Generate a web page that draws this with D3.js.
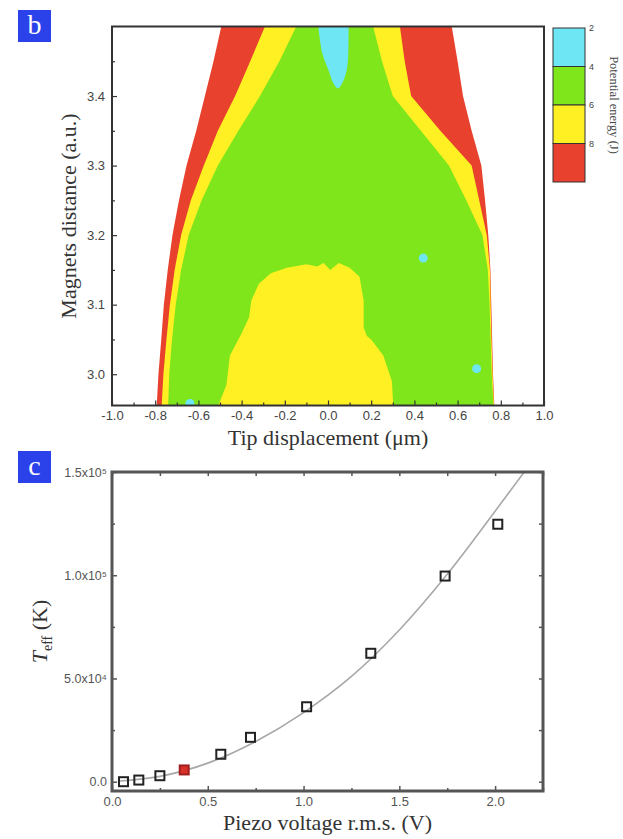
<!DOCTYPE html>
<html><head><meta charset="utf-8">
<script src="https://cdn.jsdelivr.net/npm/d3@7"></script>
<style>
html,body{margin:0;padding:0;background:#fff;}
svg{display:block;}
</style></head>
<body>
<script>
// ---------- Panel b data (contour map) ----------
const yLevels    = [3.50, 3.45, 3.40, 3.35, 3.30, 3.25, 3.20, 3.15, 3.10, 3.05, 3.00, 2.955];
const redLeft    = [-0.494,-0.53,-0.57,-0.61,-0.655,-0.69,-0.72,-0.742,-0.76,-0.772,-0.785,-0.793];
const yellowLeft = [-0.292,-0.36,-0.43,-0.51,-0.575,-0.635,-0.68,-0.71,-0.732,-0.748,-0.762,-0.77];
const greenLeft  = [-0.147,-0.225,-0.315,-0.415,-0.51,-0.585,-0.645,-0.68,-0.705,-0.722,-0.735,-0.74];
const greenRight = [0.209,0.25,0.30,0.43,0.56,0.64,0.715,0.74,0.748,0.753,0.758,0.766];
const yellowRight= [0.333,0.355,0.385,0.52,0.665,0.70,0.735,0.75,0.753,0.757,0.762,0.768];
const redRight   = [0.573,0.60,0.625,0.665,0.71,0.727,0.742,0.752,0.756,0.76,0.764,0.77];

const blobX = [-0.508,-0.47,-0.454,-0.40,-0.365,-0.355,-0.32,-0.265,-0.19,-0.10,-0.05,-0.02,0.01,0.05,0.10,0.146,0.165,0.165,0.18,0.20,0.256,0.296,0.302];
const blobY = [2.955,2.985,3.027,3.059,3.082,3.106,3.13,3.145,3.153,3.158,3.155,3.16,3.15,3.16,3.153,3.14,3.106,3.067,3.055,3.05,3.027,2.99,2.955];

const cyanTopX = [-0.045,-0.025,0.005,0.025,0.046,0.065,0.085,0.094,0.095];
const cyanTopY = [3.50,3.46,3.435,3.418,3.411,3.418,3.435,3.46,3.50];

const dotX = [0.441, 0.688, -0.639];
const dotY = [3.167, 3.008, 2.958];

const xTicksB = [-1.0,-0.8,-0.6,-0.4,-0.2,0.0,0.2,0.4,0.6,0.8,1.0];
const yTicksB = [3.0,3.1,3.2,3.3,3.4];

const legendColors = ["#6ee6f4","#7ee61a","#fff023","#e8412e"];
const legendLabels = ["2","4","6","8"];

// ---------- Panel c data ----------
const voltage = [0.06,0.14,0.25,0.377,0.568,0.723,1.016,1.351,1.739,2.014];
const teff    = [0,800,2900,5700,13300,21500,36300,62200,99600,124700];
const highlighted = [false,false,false,true,false,false,false,false,false,false];
const fitV = [0.03,0.25,0.5,0.75,1.0,1.25,1.5,1.75,2.0,2.2];
const fitT = [200,2600,9000,19500,33500,51000,73500,100500,131000,156000];
const xTicksC = [0.0,0.5,1.0,1.5,2.0];
const yTicksC = [0,50000,100000,150000];
const yTickLabelsC = ["0.0","5.0x10⁴","1.0x10⁵","1.5x10⁵"];

// ---------- Drawing ----------
const W = 623, H = 839;
const svg = d3.select("body").append("svg").attr("width", W).attr("height", H);

const serif = "'Liberation Serif','Times New Roman',serif";
const sans = "'Liberation Sans',Arial,sans-serif";
const fmt1 = d => d.toFixed(1);

// Panel b scales
const bL = 112, bR = 544, bT = 26.5, bB = 405.5;
const xB = d3.scaleLinear().domain([-1, 1]).range([bL, bR]);
const yB = d3.scaleLinear().domain([2.955, 3.5]).range([bB, bT]);

svg.append("clipPath").attr("id","clipB").append("rect")
  .attr("x", bL).attr("y", bT).attr("width", bR-bL).attr("height", bB-bT);

const gB = svg.append("g").attr("clip-path","url(#clipB)");
const line = d3.line().x(d => xB(d[0])).y(d => yB(d[1]));

function band(left, right) {
  const pts = [];
  yLevels.forEach((y,i) => pts.push([left[i], y]));
  for (let i = yLevels.length-1; i >= 0; i--) pts.push([right[i], yLevels[i]]);
  return pts;
}
gB.append("path").attr("d", line(band(redLeft, redRight)) + "Z").attr("fill", legendColors[3]);
gB.append("path").attr("d", line(band(yellowLeft, yellowRight)) + "Z").attr("fill", legendColors[2]);
gB.append("path").attr("d", line(band(greenLeft, greenRight)) + "Z").attr("fill", legendColors[1]);
gB.append("path").attr("d", line(blobX.map((x,i)=>[x, blobY[i]])) + "Z").attr("fill", legendColors[2]);
gB.append("path").attr("d", d3.line().x(d=>xB(d[0])).y(d=>yB(d[1])).curve(d3.curveCatmullRom)(cyanTopX.map((x,i)=>[x,cyanTopY[i]])) + "Z").attr("fill", legendColors[0]);
gB.selectAll("circle.dot").data(dotX.map((x,i)=>[x,dotY[i]])).join("circle")
  .attr("cx", d=>xB(d[0])).attr("cy", d=>yB(d[1])).attr("r", 4.5).attr("fill", legendColors[0]);

// axes b
function styleAxis(g, fs) {
  g.select(".domain").remove();
  g.selectAll("line").attr("stroke","#333").attr("stroke-width",1.2);
  g.selectAll("text").attr("font-family", sans).attr("font-size", fs).attr("fill","#444");
}
const xMinorB = [-0.9,-0.7,-0.5,-0.3,-0.1,0.1,0.3,0.5,0.7,0.9];
svg.append("g").attr("transform",`translate(0,${bB})`)
  .call(d3.axisBottom(xB).tickValues(xTicksB).tickSize(-5).tickPadding(5).tickFormat(fmt1))
  .call(g => styleAxis(g, 13));
svg.append("g").attr("transform",`translate(0,${bB})`)
  .call(d3.axisBottom(xB).tickValues(xMinorB).tickSize(-3).tickFormat(""))
  .call(g => styleAxis(g, 12));
svg.append("g").attr("transform",`translate(${bL},0)`)
  .call(d3.axisLeft(yB).tickValues(yTicksB).tickSize(-5).tickPadding(7).tickFormat(fmt1))
  .call(g => styleAxis(g, 13));
svg.append("g").attr("transform",`translate(${bL},0)`)
  .call(d3.axisLeft(yB).tickValues([3.05,3.15,3.25,3.35,3.45]).tickSize(-3).tickFormat(""))
  .call(g => styleAxis(g, 12));

svg.append("rect").attr("x", bL).attr("y", bT).attr("width", bR-bL).attr("height", bB-bT)
  .attr("fill","none").attr("stroke","#333").attr("stroke-width",2);

svg.append("text").attr("x", (bL+bR)/2).attr("y", 445).attr("text-anchor","middle")
  .attr("font-family", serif).attr("font-size", 22).attr("fill","#333").text("Tip displacement (μm)");
svg.append("text").attr("transform","translate(76,216) rotate(-90)").attr("text-anchor","middle")
  .attr("font-family", serif).attr("font-size", 22).attr("fill","#333").text("Magnets distance (a.u.)");

// legend
const legX = 553, legW = 32;
const yLeg = d3.scaleLinear().domain([0, 4]).range([28, 182]);
const leg = svg.append("g");
leg.selectAll("rect").data(legendColors).join("rect")
  .attr("x", legX).attr("y", (d,i)=>yLeg(i)).attr("width", legW).attr("height", (d,i)=>yLeg(i+1)-yLeg(i))
  .attr("fill", d=>d).attr("stroke","#333").attr("stroke-width",1);
leg.selectAll("text").data(legendLabels).join("text")
  .attr("x", legX+legW+4).attr("y", (d,i)=>yLeg(i)+3).attr("font-family", sans).attr("font-size", 9)
  .attr("fill","#444").text(d=>d);
leg.append("text").attr("transform",`translate(610,${(yLeg(0)+yLeg(4))/2}) rotate(90)`).attr("text-anchor","middle")
  .attr("font-family", serif).attr("font-size", 12.5).attr("fill","#444").text("Potential energy (J)");

// panel labels
function panelLabel(x, y, t) {
  svg.append("rect").attr("x", x).attr("y", y).attr("width", 33).attr("height", 32).attr("fill","#2b42ea");
  svg.append("text").attr("x", x+16.5).attr("y", y+24).attr("text-anchor","middle")
    .attr("font-family", serif).attr("font-size", 28).attr("fill","#fff").text(t);
}
panelLabel(18, 10, "b");
panelLabel(18, 451, "c");

// Panel c
const cL = 112, cR = 543, cT = 472, cB = 791;
const xC = d3.scaleLinear().domain([0, 2.25]).range([cL, cR]);
const yC = d3.scaleLinear().domain([-4500, 150000]).range([cB, cT]);

svg.append("clipPath").attr("id","clipC").append("rect")
  .attr("x", cL).attr("y", cT).attr("width", cR-cL).attr("height", cB-cT);

const xMinorC = [0.25,0.75,1.25,1.75,2.25];
const yMinorC = [25000,75000,125000];
function styleC(g, fs) {
  g.select(".domain").remove();
  g.selectAll("line").attr("stroke","#555").attr("stroke-width",1.5);
  g.selectAll("text").attr("font-family", sans).attr("font-size", fs).attr("fill","#555");
}
svg.append("g").attr("transform",`translate(0,${cB})`)
  .call(d3.axisBottom(xC).tickValues(xTicksC).tickSize(-5).tickPadding(6).tickFormat(fmt1))
  .call(g => styleC(g, 13));
svg.append("g").attr("transform",`translate(0,${cB})`)
  .call(d3.axisBottom(xC).tickValues(xMinorC).tickSize(-3).tickFormat("")).call(g => styleC(g, 12));
svg.append("g").attr("transform",`translate(0,${cT})`)
  .call(d3.axisTop(xC).tickValues(xTicksC.concat(xMinorC)).tickSize(-4).tickFormat("")).call(g => styleC(g, 12));
svg.append("g").attr("transform",`translate(${cL},0)`)
  .call(d3.axisLeft(yC).tickValues(yTicksC).tickSize(-5).tickPadding(5).tickFormat((d,i) => yTickLabelsC[i]))
  .call(g => styleC(g, 12.5));
svg.append("g").attr("transform",`translate(${cL},0)`)
  .call(d3.axisLeft(yC).tickValues(yMinorC).tickSize(-3).tickFormat("")).call(g => styleC(g, 12));
svg.append("g").attr("transform",`translate(${cR},0)`)
  .call(d3.axisRight(yC).tickValues(yTicksC.concat(yMinorC)).tickSize(-4).tickFormat("")).call(g => styleC(g, 12));

svg.append("path").attr("clip-path","url(#clipC)")
  .attr("d", d3.line().x((d,i)=>xC(fitV[i])).y(d=>yC(d)).curve(d3.curveMonotoneX)(fitT))
  .attr("fill","none").attr("stroke","#a8a8a8").attr("stroke-width",1.6);

const sq = 9;
svg.append("g").selectAll("rect").data(voltage.map((v,i)=>({v, t: teff[i], h: highlighted[i]}))).join("rect")
  .attr("x", d=>xC(d.v)-sq/2).attr("y", d=>yC(d.t)-sq/2).attr("width", sq).attr("height", sq)
  .attr("fill", d=>d.h ? "#d8312a" : "none").attr("stroke", d=>d.h ? "#a02020" : "#222").attr("stroke-width", 2);

svg.append("rect").attr("x", cL).attr("y", cT).attr("width", cR-cL).attr("height", cB-cT)
  .attr("fill","none").attr("stroke","#555").attr("stroke-width",3);

svg.append("text").attr("x", (cL+cR)/2).attr("y", 830).attr("text-anchor","middle")
  .attr("font-family", serif).attr("font-size", 22).attr("fill","#333").text("Piezo voltage r.m.s. (V)");
const tt = svg.append("text").attr("transform",`translate(47,${(cT+cB)/2}) rotate(-90)`).attr("text-anchor","middle")
  .attr("font-family", serif).attr("font-size", 22).attr("fill","#333");
tt.append("tspan").attr("font-style","italic").text("T");
tt.append("tspan").attr("font-size", 14).attr("dy", 5).text("eff");
tt.append("tspan").attr("dy", -5).text(" (K)");
</script>
</body></html>
